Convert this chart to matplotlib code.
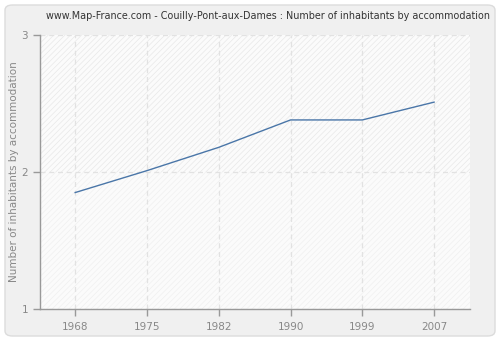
import matplotlib
matplotlib.use("Agg")
import matplotlib.pyplot as plt
from matplotlib.patches import FancyBboxPatch

# ===== Data =====
years = ["1968", "1975", "1982", "1990", "1999", "2007"]
inhabitants_per_home = [1.85, 2.01, 2.18, 2.38, 2.38, 2.51]
y_ticks = [1, 2, 3]

TITLE = "www.Map-France.com - Couilly-Pont-aux-Dames : Number of inhabitants by accommodation"
Y_LABEL = "Number of inhabitants by accommodation"

# ===== Style =====
LINE_COLOR = "#4a76a8"
TEXT_COLOR = "#888888"
AXIS_COLOR = "#999999"
GRID_COLOR = "#e2e2e2"

plt.rcParams["hatch.linewidth"] = 0.5

fig = plt.figure(figsize=(5.0, 3.4), dpi=100)
fig.patch.set_facecolor("white")

# rounded grey panel behind everything
panel = FancyBboxPatch((5 / 500, 4 / 340), 490 / 500, 331 / 340,
                       boxstyle="round,pad=0,rounding_size=0.015",
                       transform=fig.transFigure, facecolor="#f0f0f0",
                       edgecolor="#dcdcdc", linewidth=1.0, zorder=-10)
fig.add_artist(panel)

ax = fig.add_axes([40 / 500, 31 / 340, 430 / 500, 274 / 340])
ax.set_facecolor("#fbfbfb")

x = list(range(len(years)))
ax.set_xlim(-0.49, len(years) - 0.5)
ax.set_ylim(1, 3)

# hatched background, a little stronger in the upper half
ax.axhspan(2, 3, facecolor="none", edgecolor="#e8e8e8", hatch="//////", linewidth=0, zorder=0)
ax.axhspan(1, 2, facecolor="none", edgecolor="#f0f0f0", hatch="//////", linewidth=0, zorder=0)

ax.grid(True, color=GRID_COLOR, linestyle=(0, (4, 3)), linewidth=0.9)
ax.set_axisbelow(True)

ax.plot(x, inhabitants_per_home, color=LINE_COLOR, linewidth=1.0, zorder=3)

ax.set_xticks(x)
ax.set_xticklabels(years)
ax.set_yticks(y_ticks)
ax.set_yticklabels([str(v) for v in y_ticks])

for side in ["top", "right"]:
    ax.spines[side].set_visible(False)
for side in ["left", "bottom"]:
    ax.spines[side].set_color(AXIS_COLOR)
    ax.spines[side].set_linewidth(1.0)

ax.tick_params(axis="both", colors=AXIS_COLOR, labelcolor=TEXT_COLOR,
               labelsize=7.5, length=5, width=1.0, direction="out")
ax.tick_params(axis="x", pad=4)

ax.set_ylabel(Y_LABEL, color=TEXT_COLOR, fontsize=7.5, labelpad=2)
fig.text(268 / 500, 1 - 16 / 340, TITLE, ha="center", va="center",
         fontsize=6.9, color="#333333")

fig.savefig("out.png", dpi=100, facecolor=fig.get_facecolor())
